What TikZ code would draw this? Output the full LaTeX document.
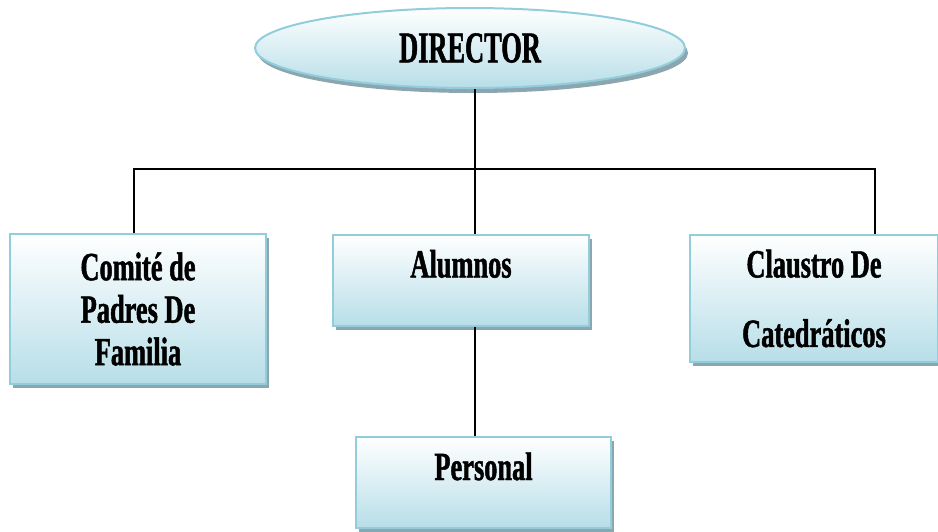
\documentclass[tikz,border=0pt]{standalone}
\usepackage{fontspec}
\usepackage{tikz}
\usetikzlibrary{shapes.geometric, shadows}
\newfontfamily\orgfont[FakeStretch=0.66,BoldFeatures={FakeBold=1.2}]{Liberation Serif}
\newfontfamily\topfont[FakeStretch=0.6,BoldFeatures={FakeBold=1.2}]{Liberation Serif}
\definecolor{boxblue}{RGB}{183,222,232}
\definecolor{edgeblue}{RGB}{146,205,220}
\definecolor{shadowgray}{RGB}{140,166,176}

\begin{document}
\begin{tikzpicture}[x=1pt, y=-1pt,
				line width=2pt]
					\tikzstyle{unit}=[rectangle, draw=edgeblue, line width=2pt, top color=white, bottom color=boxblue, text centered, align=center,
						drop shadow={shadow xshift=3pt, shadow yshift=-4pt, fill=shadowgray, opacity=1},
						font=\orgfont\bfseries\fontsize{40}{42.5}\selectfont]
					\tikzstyle{head}=[ellipse, draw=edgeblue, line width=2pt, top color=white, bottom color=boxblue, minimum width=430pt, minimum height=80pt,
						drop shadow={shadow xshift=3pt, shadow yshift=-5pt, fill=shadowgray, opacity=1},
						font=\topfont\bfseries\fontsize{44}{48}\selectfont]
					\tikzstyle{upper}=[text height=26pt, text depth=31pt]
					\useasboundingbox (0,0) rectangle (938,531);
					% boxes
					\node[head] (dir) at (470,48) {DIRECTOR};
					\node[unit, minimum width=256pt, minimum height=150pt] (comite) at (138,309) {Comit\'e de\\Padres De\\Familia};
					\node[unit, upper, minimum width=256pt, minimum height=91pt] (alum) at (461,280) {Alumnos};
					\node[unit, minimum width=248pt, minimum height=127pt] (claustro) at (814,298.5) {Claustro De\\[27pt]Catedr\'aticos};
					\node[unit, upper, minimum width=255pt, minimum height=91pt] (pers) at (483.5,482.5) {Personal};
					% lines
					\coordinate (bus) at (475,169);
					\coordinate (busL) at (134,169);
					\coordinate (busR) at (875,169);
					\draw (bus |- dir.south) -- (bus |- alum.north);
					\draw (busL |- comite.north) -- (busL) -- (busR) -- (busR |- claustro.north);
					\draw (bus |- alum.south) -- (bus |- pers.north);
				\end{tikzpicture}
\end{document}
